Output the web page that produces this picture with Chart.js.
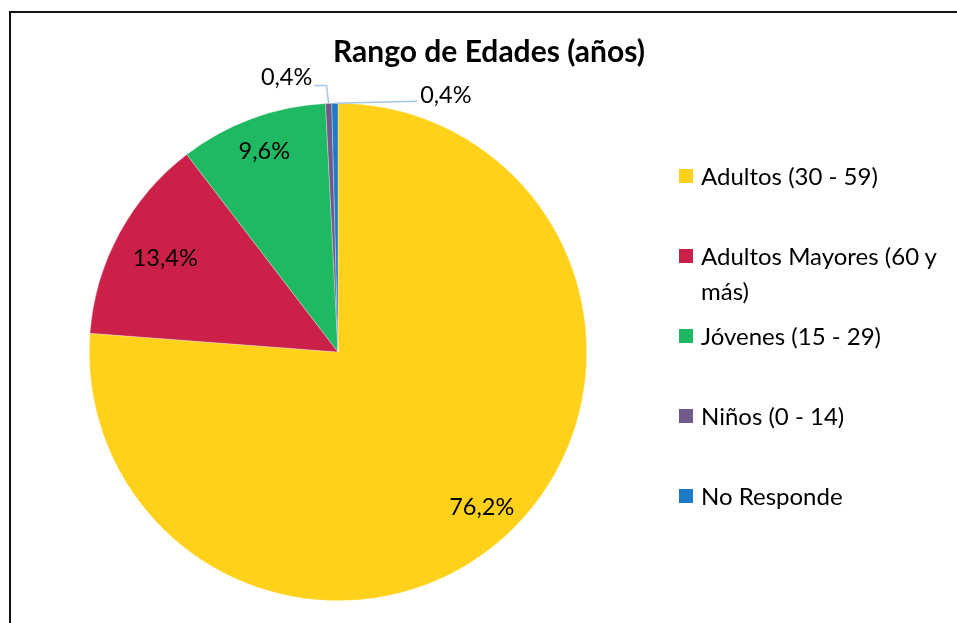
<!DOCTYPE html>
<html>
<head>
<meta charset="utf-8">
<script src="https://cdn.jsdelivr.net/npm/chart.js@4.4.1/dist/chart.umd.min.js"></script>
<style>
  html, body { margin: 0; padding: 0; background: #fff; overflow: hidden; }
  #wrap { position: relative; width: 957px; height: 623px; font-family: Lato, "Open Sans", sans-serif; }
  #frame { position: absolute; left: 9px; top: 11px; width: 1000px; height: 700px;
           border-left: 2.5px solid #111; border-top: 2.5px solid #111; }
  #title { position: absolute; left: 0; width: 978px; top: 32px; text-align: center;
           font-weight: bold; font-size: 30px; color: #000; }
  .item { position: absolute; left: 679px; width: 272px; font-size: 24px; line-height: 35px; color: #000; }
  .item .box { position: absolute; left: 0; top: 11px; width: 14px; height: 14px; }
  .item .txt { margin-left: 22px; }
</style>
</head>
<body>
<div id="wrap">
  <canvas id="pie" width="957" height="623"></canvas>
  <div id="frame"></div>
  <div id="title"></div>
  <div id="legend"></div>
</div>
<script>
// chart data
const chartTitle = 'Rango de Edades (años)';
const categories = ['Adultos (30 - 59)', 'Adultos Mayores (60 y más)', 'Jóvenes (15 - 29)', 'Niños (0 - 14)', 'No Responde'];
const shares = [76.2, 13.4, 9.6, 0.4, 0.4];
const sliceColors = ['#FFD11A', '#CB2048', '#1FB863', '#705A8C', '#1E7BC7'];

const fmt = v => v.toFixed(1).replace('.', ',') + '%';

document.getElementById('title').textContent = chartTitle;

// legend, one item every 80px
const legend = document.getElementById('legend');
categories.forEach((name, i) => {
  const item = document.createElement('div');
  item.className = 'item';
  item.style.top = (158 + i * 80) + 'px';
  item.innerHTML = '<span class="box" style="background:' + sliceColors[i] + '"></span><div class="txt"></div>';
  item.querySelector('.txt').textContent = name;
  legend.appendChild(item);
});

// where each data label goes: inside at a fraction of the radius, or outside with a leader line
const labelPlace = [
  { inside: 0.85 },
  { inside: 0.79 },
  { inside: 0.86 },
  { dx: -42, dy: -26, leader: 'elbow' },
  { dx: 111, dy: -8, leader: 'straight' },
];

const sliceLabels = {
  id: 'sliceLabels',
  afterDatasetsDraw(chart) {
    const ctx = chart.ctx;
    const meta = chart.getDatasetMeta(0);
    ctx.save();
    ctx.font = '23.5px Lato, "Open Sans", sans-serif';
    ctx.textAlign = 'center';
    ctx.textBaseline = 'middle';
    meta.data.forEach((arc, i) => {
      const p = arc.getProps(['x', 'y', 'startAngle', 'endAngle', 'outerRadius'], true);
      const mid = (p.startAngle + p.endAngle) / 2;
      const text = fmt(shares[i]);
      const place = labelPlace[i];
      let lx, ly;
      if (place.inside) {
        lx = p.x + Math.cos(mid) * p.outerRadius * place.inside;
        ly = p.y + Math.sin(mid) * p.outerRadius * place.inside;
      } else {
        const ax = p.x + Math.cos(mid) * p.outerRadius;
        const ay = p.y + Math.sin(mid) * p.outerRadius;
        lx = ax + place.dx;
        ly = ay + place.dy;
        const w = ctx.measureText(text).width;
        ctx.strokeStyle = '#A6C4E5';
        ctx.lineWidth = 1.5;
        ctx.beginPath();
        ctx.moveTo(ax, ay);
        if (place.leader === 'elbow') {
          ctx.lineTo(ax - 2, ly + 8);
          ctx.lineTo(lx + w / 2 + 2, ly + 8);
        } else {
          ctx.lineTo(lx - w / 2 - 3, ly + 6);
        }
        ctx.stroke();
      }
      ctx.fillStyle = '#000';
      ctx.fillText(text, lx, ly);
    });
    ctx.restore();
  }
};

new Chart(document.getElementById('pie'), {
  type: 'pie',
  data: {
    labels: categories,
    datasets: [{
      data: shares,
      backgroundColor: sliceColors,
      borderColor: 'rgba(255,255,255,0.6)',
      borderWidth: 0.5,
    }],
  },
  options: {
    responsive: false,
    animation: false,
    layout: { padding: { left: 89, right: 370, top: 103, bottom: 22 } },
    plugins: {
      legend: { display: false },
      title: { display: false },
      tooltip: { enabled: false },
    },
  },
  plugins: [sliceLabels],
});
</script>
</body>
</html>
